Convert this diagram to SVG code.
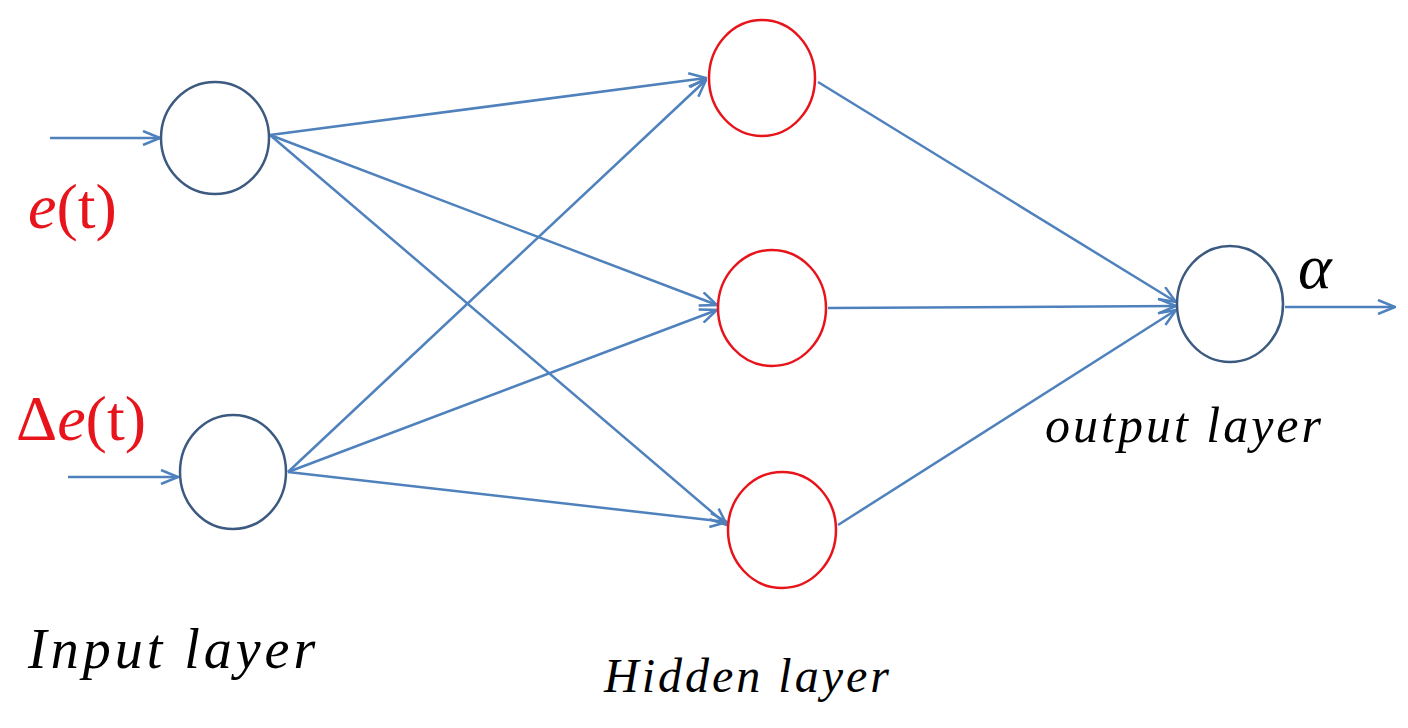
<svg xmlns="http://www.w3.org/2000/svg" width="1408" height="728" viewBox="0 0 1408 728">
<style>
.in{fill:none;stroke:#3c5a80;stroke-width:2.5}
.hid{fill:none;stroke:#e8141c;stroke-width:2.5}
.c{stroke:#4f81bd;stroke-width:2.5;fill:none;marker-end:url(#a)}
.t{font-family:'Liberation Serif','Times New Roman','DejaVu Serif',serif}
.lab{font-family:'Liberation Serif','Times New Roman','DejaVu Serif',serif;font-style:italic;fill:#000}
</style>
<defs><marker id="a" viewBox="0 0 20 16" refX="19" refY="8" markerWidth="20" markerHeight="16" orient="auto" markerUnits="userSpaceOnUse"><path d="M2,1 L19,8 L2,15" fill="none" stroke="#4f81bd" stroke-width="2.5"/></marker></defs>
<rect width="1408" height="728" fill="#fff"/>
<g id="connectors">
<line class="c" x1="50" y1="138" x2="160" y2="138"/>
<line class="c" x1="68" y1="477" x2="178" y2="477"/>
<line class="c" x1="270" y1="135" x2="706" y2="78"/>
<line class="c" x1="270" y1="135" x2="717" y2="305"/>
<line class="c" x1="270" y1="135" x2="727" y2="525"/>
<line class="c" x1="288" y1="472" x2="706" y2="80"/>
<line class="c" x1="288" y1="472" x2="717" y2="310"/>
<line class="c" x1="288" y1="472" x2="727" y2="522"/>
<line class="c" x1="818" y1="82" x2="1176" y2="302"/>
<line class="c" x1="828" y1="308" x2="1176" y2="306"/>
<line class="c" x1="838" y1="525" x2="1176" y2="310"/>
<line class="c" x1="1285" y1="307" x2="1395" y2="307"/>
</g>
<g id="in1"><ellipse class="in" cx="215" cy="138" rx="54" ry="56"/></g>
<g id="in2"><ellipse class="in" cx="233" cy="472" rx="53" ry="57"/></g>
<g id="h1"><ellipse class="hid" cx="762" cy="78" rx="53" ry="58"/></g>
<g id="h2"><ellipse class="hid" cx="772" cy="308" rx="54" ry="58"/></g>
<g id="h3"><ellipse class="hid" cx="782" cy="530" rx="54" ry="58"/></g>
<g id="out"><ellipse class="in" cx="1230" cy="304" rx="53" ry="58"/></g>
<text class="t" x="28" y="228" font-size="64" fill="#e8141c"><tspan font-style="italic">e</tspan>(t)</text>
<text class="t" x="16" y="440" font-size="64" fill="#e8141c">Δ<tspan font-style="italic">e</tspan>(t)</text>
<text class="lab" x="1298" y="288" font-size="64">α</text>
<text class="lab" x="1045" y="442" font-size="50" letter-spacing="3">output layer</text>
<text class="lab" x="28" y="668" font-size="56" letter-spacing="4">Input layer</text>
<text class="lab" x="604" y="692" font-size="48" letter-spacing="3">Hidden layer</text>
</svg>
